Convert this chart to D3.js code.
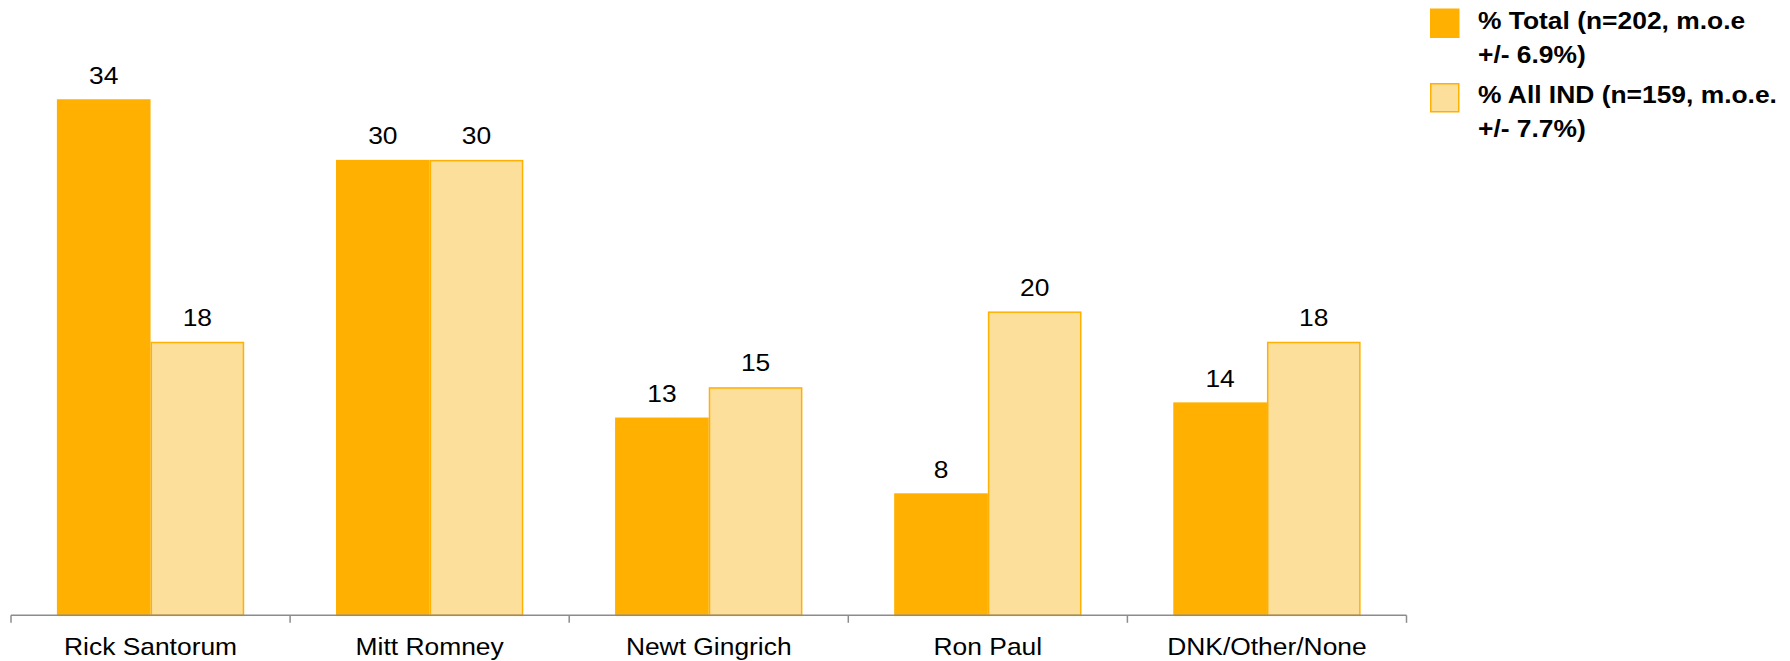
<!DOCTYPE html>
<html>
<head>
<meta charset="utf-8">
<script src="https://cdn.jsdelivr.net/npm/d3@7"></script>
<style>
  html, body { margin: 0; padding: 0; background: #ffffff; }
  svg { display: block; font-family: "Liberation Sans", Arial, sans-serif; }
</style>
</head>
<body>
<svg id="chart" width="1790" height="661"></svg>
<script>
// Categories and series values
const categories = ["Rick Santorum", "Mitt Romney", "Newt Gingrich", "Ron Paul", "DNK/Other/None"];
const seriesNames = ["% Total (n=202, m.o.e\n+/- 6.9%)", "% All IND (n=159, m.o.e.\n+/- 7.7%)"];
const totalValues = [34, 30, 13, 8, 14];
const indValues = [18, 30, 15, 20, 18];

const seriesValues = [totalValues, indValues];
const fills = ["#FFB000", "#FDDF9C"];
const strokeColor = "#FFB000";

const svg = d3.select("#chart");

// Horizontal text stretch used for every label
const sx = 1.1;

const x0 = d3.scaleBand().domain(categories).range([11, 1406.5]).padding(0);
const x1 = d3.scaleBand().domain([0, 1]).range([0, x0.bandwidth()]).paddingInner(0).paddingOuter(0.49);
const y = d3.scaleLinear().domain([0, 34]).range([615.3, 100]);

// Bars
const groups = svg.append("g").selectAll("g")
  .data(categories)
  .join("g")
  .attr("transform", d => `translate(${x0(d)},0)`);

groups.selectAll("rect")
  .data((d, i) => seriesValues.map((vals, s) => ({ s, v: vals[i] })))
  .join("rect")
  .attr("x", d => x1(d.s) + 0.75)
  .attr("width", x1.bandwidth() - 1.5)
  .attr("y", d => y(d.v))
  .attr("height", d => y(0) - y(d.v))
  .attr("fill", d => fills[d.s])
  .attr("stroke", strokeColor)
  .attr("stroke-width", 1.5);

// Value labels
groups.selectAll("text")
  .data((d, i) => seriesValues.map((vals, s) => ({ s, v: vals[i] })))
  .join("text")
  .attr("transform", d => `translate(${x1(d.s) + x1.bandwidth() / 2},${y(d.v) - 16.5}) scale(${sx},1)`)
  .attr("text-anchor", "middle")
  .attr("font-size", 24)
  .attr("fill", "#000")
  .text(d => d.v);

// Category axis
const axisColor = "#8c8c8c";
const axisG = svg.append("g");
axisG.append("line")
  .attr("x1", x0.range()[0]).attr("x2", x0.range()[1])
  .attr("y1", y(0)).attr("y2", y(0))
  .attr("stroke", axisColor).attr("stroke-width", 1.5);

const tickXs = categories.map(c => x0(c)).concat([x0.range()[1]]);
axisG.selectAll("line.tick")
  .data(tickXs)
  .join("line")
  .attr("class", "tick")
  .attr("x1", d => d).attr("x2", d => d)
  .attr("y1", y(0)).attr("y2", y(0) + 7.5)
  .attr("stroke", axisColor).attr("stroke-width", 1.5);

axisG.selectAll("text")
  .data(categories)
  .join("text")
  .attr("transform", d => `translate(${x0(d) + x0.bandwidth() / 2},655) scale(${sx},1)`)
  .attr("text-anchor", "middle")
  .attr("font-size", 24)
  .attr("fill", "#000")
  .text(d => d);

// Legend
const legendTop = [8.5, 83];
const legend = svg.append("g");
seriesNames.forEach((name, s) => {
  const g = legend.append("g").attr("transform", `translate(1430,${legendTop[s]})`);
  g.append("rect")
    .attr("x", 0.75).attr("y", 0.75)
    .attr("width", 28).attr("height", 28)
    .attr("fill", fills[s])
    .attr("stroke", strokeColor).attr("stroke-width", 1.5);
  name.split("\n").forEach((line, k) => {
    g.append("text")
      .attr("transform", `translate(48,${20 + k * 34}) scale(${sx},1)`)
      .attr("font-size", 24)
      .attr("font-weight", "bold")
      .attr("fill", "#000")
      .text(line);
  });
});
</script>
</body>
</html>
